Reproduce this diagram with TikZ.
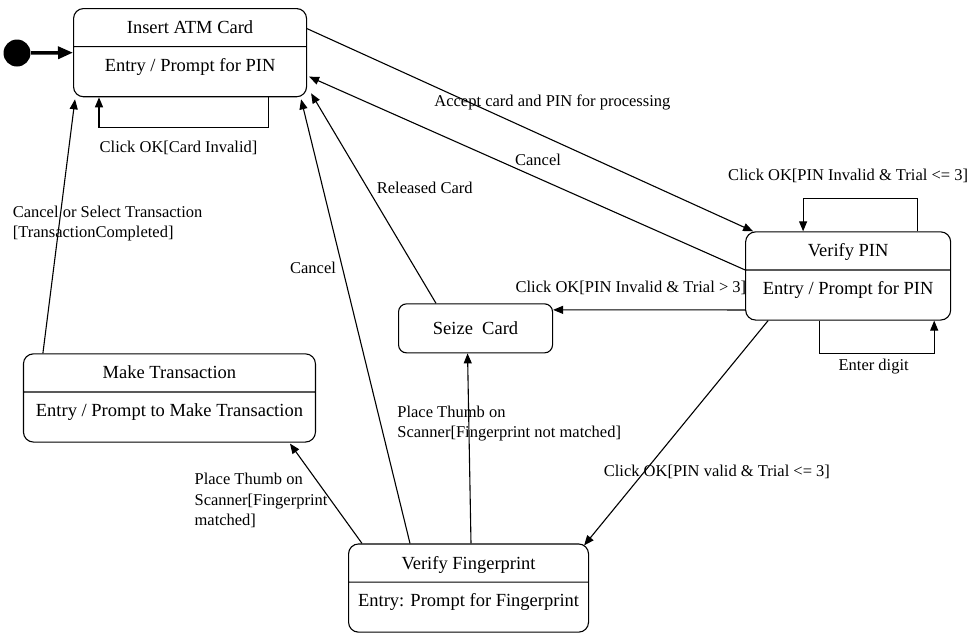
\documentclass[tikz,border=0pt]{standalone}
\usepackage{fontspec}
\setmainfont{Liberation Serif}
\usepackage{tikz}
\usetikzlibrary{positioning,arrows.meta,shapes.multipart}
\newcommand{\titlestrut}{\rule[-12.5pt]{0pt}{37pt}}
\newcommand{\entrystrut}{\rule[-25pt]{0pt}{49pt}}
\tikzstyle{statebox} = [draw, rectangle split, rectangle split parts=2,
    rounded corners=10pt, inner xsep=4pt, inner ysep=0pt,
    font=\fontsize{18.5}{22}\selectfont]
\tikzstyle{simplebox} = [draw, rectangle, rounded corners=8pt,
    minimum width=154pt, minimum height=49pt, font=\fontsize{18.5}{22}\selectfont]
\tikzstyle{startdot} = [circle, fill=black, minimum size=27pt, inner sep=0pt]
\tikzstyle{lbl} = [inner sep=0pt, font=\fontsize{16.5}{20.5}\selectfont]

\begin{document}
\begin{tikzpicture}[x=1pt, y=-1pt, line width=1.1pt, >={Triangle[length=10pt,width=8pt]}]
  \useasboundingbox (0,0) rectangle (974,633);
  % states
  \node [statebox, minimum width=233pt, anchor=north west] (insert) at (73,8)
    {\titlestrut Insert ATM Card \nodepart{two}\entrystrut Entry / Prompt for PIN};
  \node [statebox, minimum width=205pt, below right=134pt and 438pt of insert.south east] (pin)
    {\titlestrut Verify PIN \nodepart{two}\entrystrut Entry / Prompt for PIN};
  \node [simplebox, below left=72pt and 192pt of pin.north west] (seize) {Seize\ \ Card};
  \node [statebox, minimum width=240pt, below=190pt of seize.south, xshift=-7pt] (fp)
    {\titlestrut Verify Fingerprint \nodepart{two}\entrystrut Entry: Prompt for Fingerprint};
  \node [statebox, minimum width=292pt, below left=50pt and 82pt of seize.north west] (make)
    {\titlestrut Make Transaction \nodepart{two}\entrystrut Entry / Prompt to Make Transaction};
  \node [startdot] (start) at (17,53) {};
  \draw [->, line width=3.5pt, >={Triangle[length=15pt,width=12pt]}] (start) -- (insert.west);
  % transitions
  \draw [->] ([yshift=24pt]insert.east) -- node [lbl, pos=0.55, yshift=38pt] {Accept card and PIN for processing} ([xshift=8pt]pin.north west);
  \draw [->] ([yshift=6pt]pin.west) -- node [lbl, pos=0.475, yshift=18pt] {Cancel} ([xshift=2pt,yshift=-24pt]insert.east);
  \draw [->] ([xshift=38pt]seize.north west) -- node [lbl, pos=0.55, anchor=west, xshift=9pt] {Released Card} ([xshift=4pt,yshift=4pt]insert.south east);
  \draw [->] ([xshift=62pt]fp.north west) -- node [lbl, pos=0.62, anchor=east, xshift=-6pt] {Cancel} ([xshift=-6pt,yshift=-2pt]insert.south east);
  \draw [->] ([xshift=20pt]make.north west) -- node [lbl, pos=0.51, anchor=west, xshift=-47pt, align=left] {Cancel or Select Transaction\\{[}TransactionCompleted{]}} ([xshift=2pt,yshift=-2pt]insert.south west);
  \draw [->] ([yshift=-34pt]pin.west) -- node [lbl, pos=1, anchor=west, xshift=-38pt, yshift=22pt] {Click OK[PIN Invalid \& Trial > 3]} ([yshift=18.5pt]seize.east);
  \draw [->] ([xshift=23pt]pin.south west) -- node [lbl, pos=0.675, xshift=73pt] {Click OK[PIN valid \& Trial <= 3]} ([xshift=-5pt,yshift=-2pt]fp.north east);
  \draw [->] ([xshift=123pt]fp.north west) -- node [lbl, pos=0.63, anchor=west, xshift=-72pt, align=left] {Place Thumb on\\Scanner[Fingerprint not matched]} ([xshift=-8pt]seize.south);
  \draw [->] ([xshift=14pt]fp.north west) -- node [lbl, pos=0.43, anchor=west, xshift=-137pt, align=left] {Place Thumb on\\Scanner[Fingerprint\\matched]} ([xshift=-26pt,yshift=-1pt]make.south east);
  % self loops
  \draw [->] ([xshift=-39pt]insert.south east) -- ++(0,30) -| node [lbl, pos=0.25, xshift=-5pt, yshift=-21pt] {Click OK[Card Invalid]} ([xshift=26pt]insert.south west);
  \draw [->] ([xshift=-34pt]pin.north east) -- ++(0,-33) -| node [lbl, pos=0.25, xshift=-12pt, yshift=22pt] {Click OK[PIN Invalid \& Trial <= 3]} ([xshift=58pt]pin.north west);
  \draw [->] ([xshift=74pt]pin.south west) -- ++(0,33) -| node [lbl, pos=0.25, xshift=-3pt, yshift=-13pt] {Enter digit} ([xshift=-17pt]pin.south east);
\end{tikzpicture}
\end{document}
